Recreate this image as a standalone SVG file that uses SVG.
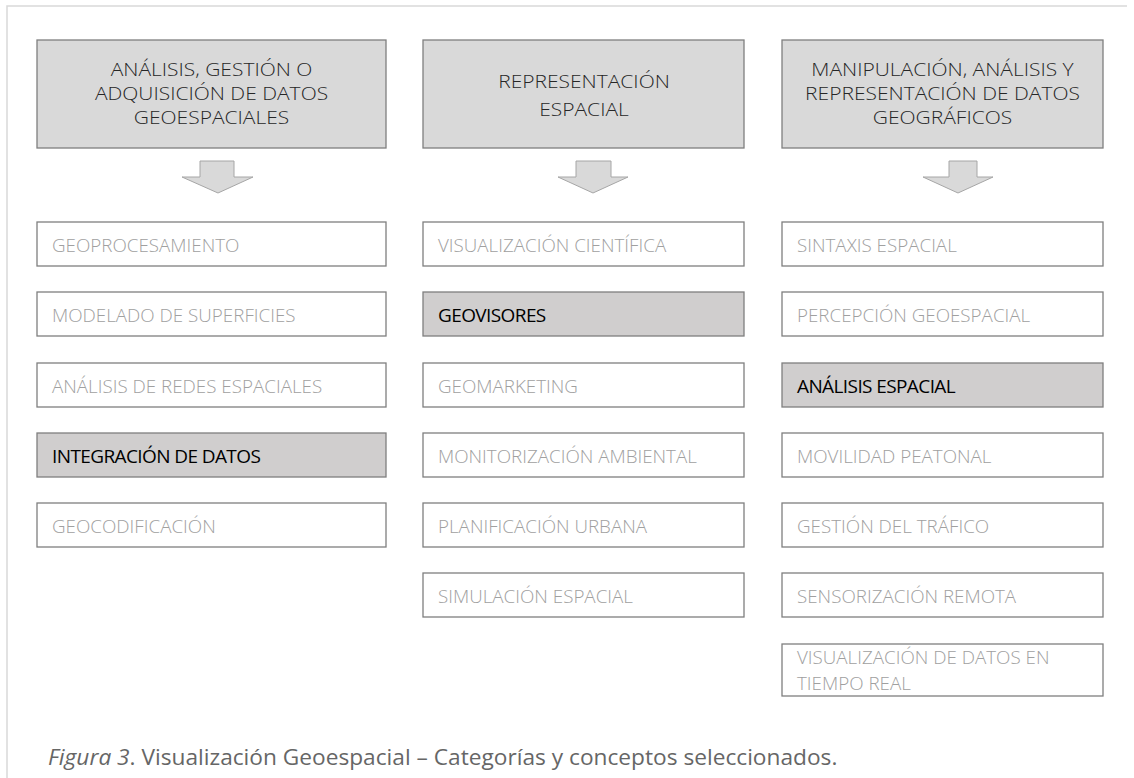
<svg xmlns="http://www.w3.org/2000/svg" width="1134" height="778" viewBox="0 0 1134 778">
<style>
.frame{stroke:#d9d9d9;stroke-width:1.5;fill:none}
.hdr{fill:#d9d9d9;stroke:#7f7f7f;stroke-width:1.3}
.box{fill:#ffffff;stroke:#7f7f7f;stroke-width:1.3}
.hl{fill:#d0cece;stroke:#7f7f7f;stroke-width:1.3}
.arrow{fill:#d9d9d9;stroke:#a6a6a6;stroke-width:1}
.ht{font-family:"Open Sans","Liberation Sans",sans-serif;font-weight:300;font-size:17.5px;fill:#262626;text-anchor:middle}
.t{font-family:"Open Sans","Liberation Sans",sans-serif;font-weight:300;font-size:18.8px;fill:#a0a0a0}
.tb{font-family:"Open Sans","Liberation Sans",sans-serif;font-weight:400;font-size:19px;fill:#000000;letter-spacing:-0.6px}
.cap{font-family:"Open Sans","Liberation Sans",sans-serif;font-size:22.7px;fill:#666666}
</style>
<rect width="1134" height="778" fill="#ffffff"/>
<path class="frame" d="M7,778 V6 H1127"/>

<g id="connectors">
<path class="arrow" d="M200,161 H234 V177 H253 L218,193 L182,177 H200 Z"/>
<path class="arrow" d="M576,161 H611 V177 H628 L593,193 L558,177 H576 Z"/>
<path class="arrow" d="M949,161 H977 V177 H993 L958,193 L923,177 H949 Z"/>
</g>

<g id="h1"><rect class="hdr" x="37" y="40" width="349" height="108"/>
<text class="ht" transform="translate(211.5,76) scale(1.2,1)">ANÁLISIS, GESTIÓN O</text>
<text class="ht" transform="translate(211.5,100) scale(1.2,1)">ADQUISICIÓN DE DATOS</text>
<text class="ht" transform="translate(211.5,124) scale(1.2,1)">GEOESPACIALES</text></g>
<g id="h2"><rect class="hdr" x="423" y="40" width="321" height="108"/>
<text class="ht" transform="translate(584,88) scale(1.2,1)">REPRESENTACIÓN</text>
<text class="ht" transform="translate(584,116) scale(1.2,1)">ESPACIAL</text></g>
<g id="h3"><rect class="hdr" x="782" y="40" width="321" height="108"/>
<text class="ht" transform="translate(942.5,76) scale(1.2,1)">MANIPULACIÓN, ANÁLISIS Y</text>
<text class="ht" transform="translate(942.5,100) scale(1.2,1)">REPRESENTACIÓN DE DATOS</text>
<text class="ht" transform="translate(942.5,124) scale(1.2,1)">GEOGRÁFICOS</text></g>

<g id="c1a"><rect class="box" x="37" y="222" width="349" height="44"/><text class="t" x="52" y="252">GEOPROCESAMIENTO</text></g>
<g id="c1b"><rect class="box" x="37" y="292" width="349" height="44"/><text class="t" x="52" y="322">MODELADO DE SUPERFICIES</text></g>
<g id="c1c"><rect class="box" x="37" y="363" width="349" height="44"/><text class="t" x="52" y="393">ANÁLISIS DE REDES ESPACIALES</text></g>
<g id="c1d"><rect class="hl" x="37" y="433" width="349" height="44"/><text class="tb" x="52" y="463">INTEGRACIÓN DE DATOS</text></g>
<g id="c1e"><rect class="box" x="37" y="503" width="349" height="44"/><text class="t" x="52" y="533">GEOCODIFICACIÓN</text></g>

<g id="c2a"><rect class="box" x="423" y="222" width="321" height="44"/><text class="t" x="438" y="252">VISUALIZACIÓN CIENTÍFICA</text></g>
<g id="c2b"><rect class="hl" x="423" y="292" width="321" height="44"/><text class="tb" x="438" y="322">GEOVISORES</text></g>
<g id="c2c"><rect class="box" x="423" y="363" width="321" height="44"/><text class="t" x="438" y="393">GEOMARKETING</text></g>
<g id="c2d"><rect class="box" x="423" y="433" width="321" height="44"/><text class="t" x="438" y="463">MONITORIZACIÓN AMBIENTAL</text></g>
<g id="c2e"><rect class="box" x="423" y="503" width="321" height="44"/><text class="t" x="438" y="533">PLANIFICACIÓN URBANA</text></g>
<g id="c2f"><rect class="box" x="423" y="573" width="321" height="44"/><text class="t" x="438" y="603">SIMULACIÓN ESPACIAL</text></g>

<g id="c3a"><rect class="box" x="782" y="222" width="321" height="44"/><text class="t" x="797" y="252">SINTAXIS ESPACIAL</text></g>
<g id="c3b"><rect class="box" x="782" y="292" width="321" height="44"/><text class="t" x="797" y="322">PERCEPCIÓN GEOESPACIAL</text></g>
<g id="c3c"><rect class="hl" x="782" y="363" width="321" height="44"/><text class="tb" x="797" y="393">ANÁLISIS ESPACIAL</text></g>
<g id="c3d"><rect class="box" x="782" y="433" width="321" height="44"/><text class="t" x="797" y="463">MOVILIDAD PEATONAL</text></g>
<g id="c3e"><rect class="box" x="782" y="503" width="321" height="44"/><text class="t" x="797" y="533">GESTIÓN DEL TRÁFICO</text></g>
<g id="c3f"><rect class="box" x="782" y="573" width="321" height="44"/><text class="t" x="797" y="603">SENSORIZACIÓN REMOTA</text></g>
<g id="c3g"><rect class="box" x="782" y="644" width="321" height="52"/><text class="t" x="797" y="664">VISUALIZACIÓN DE DATOS EN</text><text class="t" x="797" y="690">TIEMPO REAL</text></g>

<g id="caption"><text class="cap" x="48" y="765"><tspan font-style="italic">Figura 3</tspan>. Visualización Geoespacial – Categorías y conceptos seleccionados.</text></g>
</svg>
